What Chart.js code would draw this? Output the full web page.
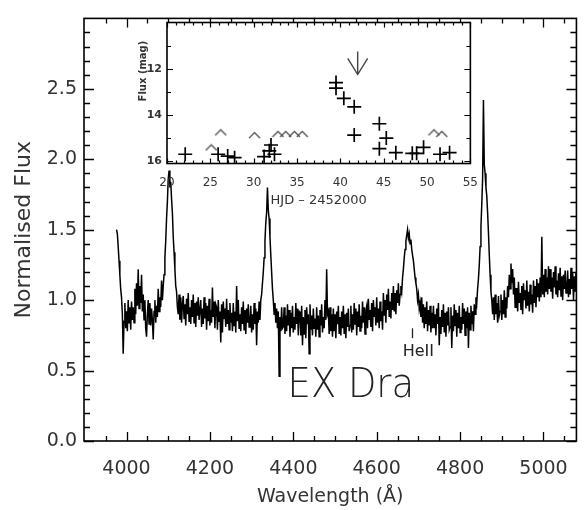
<!DOCTYPE html>
<html><head><meta charset="utf-8">
<script src="https://cdn.jsdelivr.net/npm/chart.js@4/dist/chart.umd.min.js"></script>
<style>
html,body{margin:0;padding:0;background:#fff;}
#wrap{position:relative;width:585px;height:510px;overflow:hidden;}
#main{position:absolute;left:0;top:0;}
#inset{position:absolute;left:110px;top:10px;}
</style></head><body>
<div id="wrap">
<canvas id="main" width="585" height="510"></canvas>
<canvas id="inset" width="380" height="205"></canvas>
</div>
<script>
// ---------- Main spectrum data (wavelength in Å, normalised flux) ----------
const wavelengths = [
3976,3978,3980,3982,3984,3986,3988,3990,3992,3994,3996,3998,4000,4002,4004,4006,4008,4010,4012,4014,
4016,4018,4020,4022,4024,4026,4028,4030,4032,4034,4036,4038,4040,4042,4044,4046,4048,4050,4052,4054,
4056,4058,4060,4062,4064,4066,4068,4070,4072,4074,4076,4078,4080,4082,4084,4086,4088,4090,4092,4094,
4096,4098,4100,4102,4104,4106,4108,4110,4112,4114,4116,4118,4120,4122,4124,4126,4128,4130,4132,4134,
4136,4138,4140,4142,4144,4146,4148,4150,4152,4154,4156,4158,4160,4162,4164,4166,4168,4170,4172,4174,
4176,4178,4180,4182,4184,4186,4188,4190,4192,4194,4196,4198,4200,4202,4204,4206,4208,4210,4212,4214,
4216,4218,4220,4222,4224,4226,4228,4230,4232,4234,4236,4238,4240,4242,4244,4246,4248,4250,4252,4254,
4256,4258,4260,4262,4264,4266,4268,4270,4272,4274,4276,4278,4280,4282,4284,4286,4288,4290,4292,4294,
4296,4298,4300,4302,4304,4306,4308,4310,4312,4314,4316,4318,4320,4322,4324,4326,4328,4330,4332,4334,
4336,4338,4340,4342,4344,4346,4348,4350,4352,4354,4356,4358,4360,4362,4364,4366,4368,4370,4372,4374,
4376,4378,4380,4382,4384,4386,4388,4390,4392,4394,4396,4398,4400,4402,4404,4406,4408,4410,4412,4414,
4416,4418,4420,4422,4424,4426,4428,4430,4432,4434,4436,4438,4440,4442,4444,4446,4448,4450,4452,4454,
4456,4458,4460,4462,4464,4466,4468,4470,4472,4474,4476,4478,4480,4482,4484,4486,4488,4490,4492,4494,
4496,4498,4500,4502,4504,4506,4508,4510,4512,4514,4516,4518,4520,4522,4524,4526,4528,4530,4532,4534,
4536,4538,4540,4542,4544,4546,4548,4550,4552,4554,4556,4558,4560,4562,4564,4566,4568,4570,4572,4574,
4576,4578,4580,4582,4584,4586,4588,4590,4592,4594,4596,4598,4600,4602,4604,4606,4608,4610,4612,4614,
4616,4618,4620,4622,4624,4626,4628,4630,4632,4634,4636,4638,4640,4642,4644,4646,4648,4650,4652,4654,
4656,4658,4660,4662,4664,4666,4668,4670,4672,4674,4676,4678,4680,4682,4684,4686,4688,4690,4692,4694,
4696,4698,4700,4702,4704,4706,4708,4710,4712,4714,4716,4718,4720,4722,4724,4726,4728,4730,4732,4734,
4736,4738,4740,4742,4744,4746,4748,4750,4752,4754,4756,4758,4760,4762,4764,4766,4768,4770,4772,4774,
4776,4778,4780,4782,4784,4786,4788,4790,4792,4794,4796,4798,4800,4802,4804,4806,4808,4810,4812,4814,
4816,4818,4820,4822,4824,4826,4828,4830,4832,4834,4836,4838,4840,4842,4844,4846,4848,4850,4852,4854,
4856,4858,4860,4862,4864,4866,4868,4870,4872,4874,4876,4878,4880,4882,4884,4886,4888,4890,4892,4894,
4896,4898,4900,4902,4904,4906,4908,4910,4912,4914,4916,4918,4920,4922,4924,4926,4928,4930,4932,4934,
4936,4938,4940,4942,4944,4946,4948,4950,4952,4954,4956,4958,4960,4962,4964,4966,4968,4970,4972,4974,
4976,4978,4980,4982,4984,4986,4988,4990,4992,4994,4996,4998,5000,5002,5004,5006,5008,5010,5012,5014,
5016,5018,5020,5022,5024,5026,5028,5030,5032,5034,5036,5038,5040,5042,5044,5046,5048,5050,5052,5054,
5056,5058,5060,5062,5064,5066,5068,5070,5072,5074,5076,5078];

const normalisedFlux = [
1.50,1.47,1.38,1.28,1.18,1.08,1.02,0.90,0.62,0.85,0.98,0.80,0.92,0.78,1.00,0.84,0.95,0.79,0.99,0.86,
0.95,0.84,1.08,0.90,1.12,0.96,1.22,0.94,1.10,0.98,1.18,0.92,1.04,0.86,1.00,0.80,0.74,0.90,1.00,0.83,
0.98,0.82,0.94,0.86,0.72,0.92,1.00,0.84,0.96,0.88,1.08,0.92,1.02,0.95,1.14,1.00,1.10,1.18,1.30,1.42,
1.58,1.70,1.86,1.92,1.80,1.84,1.72,1.62,1.45,1.34,1.22,1.10,1.06,0.95,0.90,1.04,0.86,1.02,0.84,0.97,
1.03,0.87,0.97,0.82,1.01,0.90,1.05,0.85,0.95,0.83,1.00,0.88,1.04,0.84,0.98,0.81,0.99,0.89,1.02,0.86,
0.86,1.00,0.81,0.94,0.83,1.02,0.87,0.98,0.79,0.96,0.85,1.01,0.82,0.93,0.84,1.09,0.88,0.99,0.80,0.97,
0.95,0.79,1.00,0.85,0.92,0.70,0.97,0.77,0.99,0.87,0.94,0.81,1.01,0.83,0.93,0.79,0.98,0.84,0.91,0.78,
0.98,0.82,0.92,0.77,1.10,0.85,1.00,0.80,0.90,0.78,0.95,0.83,0.99,0.79,0.93,0.76,0.94,0.84,0.97,0.81,
0.82,0.96,0.77,0.90,0.79,0.98,0.83,0.94,0.68,0.92,0.84,0.99,0.86,1.00,1.04,1.12,1.20,1.30,1.42,1.55,
1.62,1.80,1.64,1.58,1.45,1.32,1.20,1.08,1.00,0.90,0.98,0.84,0.94,0.80,0.92,0.46,0.88,0.78,0.95,0.80,
0.81,0.95,0.76,0.89,0.78,0.97,0.82,0.93,0.74,0.91,0.80,0.96,0.77,0.88,0.79,0.98,0.83,0.94,0.75,0.92,
0.91,0.75,0.96,0.68,0.88,0.76,0.93,0.73,0.95,0.83,0.90,0.62,0.97,0.79,0.89,0.75,0.94,0.80,0.87,0.74,
0.95,0.79,0.89,0.74,0.93,0.82,0.97,0.77,0.88,0.80,1.00,0.86,1.22,0.90,0.92,0.76,0.95,0.78,0.90,0.74,
0.94,0.78,0.90,0.73,0.92,0.83,0.96,0.76,0.88,0.75,0.92,0.80,0.96,0.76,0.90,0.73,0.91,0.81,0.94,0.78,
0.82,0.96,0.77,0.90,0.79,0.98,0.83,0.94,0.75,0.92,0.81,0.97,0.78,0.89,0.80,0.99,0.84,0.95,0.76,0.93,
0.96,0.80,1.01,0.86,0.93,0.81,0.98,0.78,1.00,0.88,0.95,0.82,1.02,0.84,0.94,0.80,0.99,0.85,0.92,0.79,
1.05,0.89,1.00,0.84,1.04,0.93,1.08,0.88,0.99,0.87,1.05,0.93,1.10,0.92,1.05,0.90,1.07,0.98,1.12,0.96,
1.04,1.10,1.06,1.16,1.22,1.30,1.36,1.42,1.46,1.50,1.44,1.47,1.40,1.43,1.36,1.32,1.28,1.22,1.16,1.12,
1.08,1.00,1.04,0.94,0.98,0.88,1.02,0.84,0.97,0.80,0.95,0.83,0.99,0.78,0.93,0.82,0.96,0.77,0.91,0.80,
0.96,0.80,0.90,0.75,0.94,0.83,0.98,0.68,0.88,0.76,0.93,0.81,0.97,0.77,0.91,0.74,0.92,0.82,0.95,0.79,
0.81,0.95,0.66,0.89,0.78,0.97,0.82,0.93,0.74,0.91,0.80,0.96,0.77,0.88,0.79,0.98,0.83,0.94,0.75,0.92,
0.80,0.95,0.66,0.91,0.79,0.96,0.83,0.92,0.78,0.97,0.90,1.02,0.98,1.08,1.15,1.25,1.38,1.52,1.68,1.86,
2.42,1.96,1.90,1.80,1.74,1.62,1.48,1.32,1.18,1.06,1.00,0.90,1.02,0.86,1.04,0.90,0.98,0.84,1.03,0.89,
0.92,1.04,0.86,1.00,0.90,1.07,0.88,1.02,0.94,1.10,1.02,1.18,1.08,1.26,1.12,1.22,1.04,1.16,0.95,1.08,
1.08,0.92,1.13,0.98,1.05,0.93,1.10,0.90,1.12,1.00,1.07,0.94,1.14,0.96,1.06,0.92,1.11,0.97,1.04,0.91,
1.14,0.98,1.10,0.95,1.15,1.02,1.12,0.99,1.16,1.02,1.45,1.04,1.18,1.02,1.22,1.06,1.16,1.04,1.24,1.08,
1.22,1.06,1.16,1.01,1.20,1.09,1.24,1.04,1.14,1.02,1.19,1.07,1.23,1.03,1.17,1.00,1.18,1.08,1.21,1.05,
1.07,1.21,1.02,1.15,1.04,1.23,1.08,1.19,1.00,1.17,1.06,1.20];

const xTickValues = [4000,4200,4400,4600,4800,5000];
const xMinorValues = [3950,4050,4100,4150,4250,4300,4350,4450,4500,4550,4650,4700,4750,4850,4900,4950,5050];
const yTickValues = [0.0,0.5,1.0,1.5,2.0,2.5];
const yMinorValues = [0.1,0.2,0.3,0.4,0.6,0.7,0.8,0.9,1.1,1.2,1.3,1.4,1.6,1.7,1.8,1.9,2.1,2.2,2.3,2.4,2.6,2.7,2.8,2.9];

// annotations (data coordinates)
const objectLabel = {text:'EX Dra', x:4538, y:0.39};
const lineLabel = {text:'HeII', x:4700, y:0.63, markX:4684, markFrom:0.73, markTo:0.80};

// ---------- Inset light-curve data ----------
const detectionDays = [22.1,25.9,27.0,27.8,31.2,31.8,32.0,32.4,39.5,39.5,40.4,41.6,41.6,44.5,44.5,45.3,46.4,48.3,48.8,49.6,51.5,52.6];
const detectionMags = [15.7,15.7,15.78,15.85,15.8,15.55,15.3,15.7,12.6,12.84,13.28,13.65,14.87,14.38,15.46,15.0,15.63,15.66,15.66,15.4,15.7,15.63];
const limitDays = [25.1,26.2,30.1,32.8,33.7,34.7,35.6,50.8,51.7];
const limitMags = [15.4,14.75,14.87,14.82,14.82,14.82,14.82,14.75,14.82];
const insetXTicks = [20,25,30,35,40,45,50,55];
const insetXMinor = [21,22,23,24,26,27,28,29,31,32,33,34,36,37,38,39,41,42,43,44,46,47,48,49,51,52,53,54];
const insetYTicks = [12,14,16];
const insetYMinor = [11,13,15];
const spectrumEpoch = {day:42.0, from:11.25, to:12.25, headDays:1.15, headMags:0.7};
const insetYTitle = {text:'Flux (mag)', day:17.3, mag:12.1};

// ---------- plugins ----------
const frameTicks = {
  id:'frameTicks',
  afterDatasetsDraw(chart, args, o){
    const {ctx, chartArea:a, scales:{x, y}} = chart;
    ctx.save();
    ctx.strokeStyle = '#000';
    ctx.lineWidth = o.tickWidth;
    ctx.beginPath();
    const tx = (vals, len) => vals.forEach(v => {
      const p = Math.round(x.getPixelForValue(v)) + 0.5;
      ctx.moveTo(p, a.bottom); ctx.lineTo(p, a.bottom - len);
      ctx.moveTo(p, a.top); ctx.lineTo(p, a.top + len);
    });
    const ty = (vals, len) => vals.forEach(v => {
      const p = Math.round(y.getPixelForValue(v)) + 0.5;
      ctx.moveTo(a.left, p); ctx.lineTo(a.left + len, p);
      ctx.moveTo(a.right, p); ctx.lineTo(a.right - len, p);
    });
    tx(o.xMajor, o.xMajorLen); tx(o.xMinor, o.xMinorLen);
    ty(o.yMajor, o.yMajorLen); ty(o.yMinor, o.yMinorLen);
    ctx.stroke();
    ctx.lineWidth = o.frameWidth;
    ctx.strokeRect(a.left, a.top, a.right - a.left, a.bottom - a.top);
    ctx.restore();
  }
};

const whiteArea = {
  id:'whiteArea',
  beforeDatasetsDraw(chart){
    const {ctx, chartArea:a} = chart;
    ctx.save(); ctx.fillStyle = '#fff';
    ctx.fillRect(a.left, a.top, a.right - a.left, a.bottom - a.top);
    ctx.restore();
  }
};

const mainLabels = {
  id:'mainLabels',
  afterDatasetsDraw(chart){
    const {ctx, scales:{x, y}} = chart;
    ctx.save();
    ctx.fillStyle = '#222';
    ctx.textAlign = 'center'; ctx.textBaseline = 'middle';
    ctx.font = '200 41px "DejaVu Sans"';
    const ex = x.getPixelForValue(objectLabel.x), ey = y.getPixelForValue(objectLabel.y);
    ctx.translate(ex, ey); ctx.scale(0.9, 1);
    ctx.fillText(objectLabel.text, 0, 0);
    ctx.setTransform(1,0,0,1,0,0);
    ctx.font = '16px "DejaVu Sans"';
    ctx.fillText(lineLabel.text, x.getPixelForValue(lineLabel.x), y.getPixelForValue(lineLabel.y));
    ctx.strokeStyle = '#222'; ctx.lineWidth = 1.3;
    const mx = Math.round(x.getPixelForValue(lineLabel.markX)) + 0.5;
    ctx.beginPath();
    ctx.moveTo(mx, y.getPixelForValue(lineLabel.markFrom));
    ctx.lineTo(mx, y.getPixelForValue(lineLabel.markTo));
    ctx.stroke();
    ctx.restore();
  }
};

const insetLabels = {
  id:'insetLabels',
  afterDatasetsDraw(chart){
    const {ctx, scales:{x, y}} = chart;
    const e = spectrumEpoch;
    const px = x.getPixelForValue(e.day);
    const tip = y.getPixelForValue(e.to);
    ctx.save();
    ctx.strokeStyle = '#444'; ctx.lineWidth = 1.4;
    ctx.beginPath();
    ctx.moveTo(px, y.getPixelForValue(e.from)); ctx.lineTo(px, tip);
    ctx.moveTo(x.getPixelForValue(e.day - e.headDays), y.getPixelForValue(e.to - e.headMags));
    ctx.lineTo(px, tip);
    ctx.lineTo(x.getPixelForValue(e.day + e.headDays), y.getPixelForValue(e.to - e.headMags));
    ctx.stroke();
    ctx.fillStyle = '#333';
    ctx.font = 'bold 10px "DejaVu Sans"';
    ctx.textAlign = 'center'; ctx.textBaseline = 'middle';
    ctx.translate(x.getPixelForValue(insetYTitle.day), y.getPixelForValue(insetYTitle.mag));
    ctx.rotate(-Math.PI / 2);
    ctx.fillText(insetYTitle.text, 0, 0);
    ctx.restore();
  }
};

// caret symbol (upper limits)
const caret = document.createElement('canvas');
caret.width = 13; caret.height = 8;
(function(){
  const c = caret.getContext('2d');
  c.strokeStyle = '#555'; c.lineWidth = 1.4;
  c.beginPath(); c.moveTo(1,7); c.lineTo(6.5,1.5); c.lineTo(12,7); c.stroke();
})();

const tickFont = {family:'"DejaVu Sans", sans-serif', size:19};

// ---------- main chart ----------
new Chart(document.getElementById('main'), {
  type:'scatter',
  data:{datasets:[{
    data: wavelengths.map((w, i) => ({x:w, y:normalisedFlux[i]})),
    showLine:true, borderColor:'#000', borderWidth:1.5, pointRadius:0, tension:0
  }]},
  options:{
    responsive:false, animation:false, devicePixelRatio:1,
    layout:{padding:{top:6, right:5, left:0, bottom:0}},
    plugins:{
      legend:{display:false}, tooltip:{enabled:false},
      frameTicks:{xMajor:xTickValues, xMinor:xMinorValues, yMajor:yTickValues, yMinor:yMinorValues,
        xMajorLen:9, xMinorLen:5, yMajorLen:10, yMinorLen:6, tickWidth:1.3, frameWidth:1.6}
    },
    scales:{
      x:{
        type:'linear', min:3898, max:5079,
        afterBuildTicks: s => { s.ticks = xTickValues.map(v => ({value:v})); },
        afterFit: s => { s.height = 69; },
        grid:{display:false, drawTicks:false}, border:{display:false},
        ticks:{font:tickFont, color:'#333', padding:17, autoSkip:false, maxRotation:0, callback: v => String(v)},
        title:{display:true, text:'Wavelength (Å)', font:tickFont, color:'#333', padding:{top:0, bottom:2}}
      },
      y:{
        type:'linear', min:0, max:3.0,
        afterBuildTicks: s => { s.ticks = yTickValues.map(v => ({value:v})); },
        afterFit: s => { s.width = 84; },
        grid:{display:false, drawTicks:false}, border:{display:false},
        ticks:{font:tickFont, color:'#333', padding:7, callback: v => Number(v).toFixed(1)},
        title:{display:true, text:'Normalised Flux', font:{family:'"DejaVu Sans", sans-serif', size:22}, color:'#333', padding:{top:11.5, bottom:0}}
      }
    }
  },
  plugins:[frameTicks, mainLabels]
});

// ---------- inset chart ----------
const insetFont = {family:'"DejaVu Sans", sans-serif', size:12};
new Chart(document.getElementById('inset'), {
  type:'scatter',
  data:{datasets:[
    {data: detectionDays.map((d, i) => ({x:d, y:detectionMags[i]})), pointStyle:'cross', pointRadius:7, borderColor:'#000', borderWidth:1.7, showLine:false},
    {data: limitDays.map((d, i) => ({x:d, y:limitMags[i]})), pointStyle:caret, pointRadius:6, showLine:false}
  ]},
  options:{
    responsive:false, animation:false, devicePixelRatio:1,
    layout:{padding:{top:12.5, right:17, left:0, bottom:0}},
    plugins:{
      legend:{display:false}, tooltip:{enabled:false},
      frameTicks:{xMajor:insetXTicks, xMinor:insetXMinor, yMajor:insetYTicks, yMinor:insetYMinor,
        xMajorLen:5, xMinorLen:3, yMajorLen:6, yMinorLen:4, tickWidth:1.2, frameWidth:1.6}
    },
    scales:{
      x:{
        type:'linear', min:20, max:55,
        afterBuildTicks: s => { s.ticks = insetXTicks.map(v => ({value:v})); },
        afterFit: s => { s.height = 51.5; },
        grid:{display:false, drawTicks:false}, border:{display:false},
        ticks:{font:insetFont, color:'#333', padding:12, autoSkip:false, maxRotation:0},
        title:{display:true, text:'HJD – 2452000', font:{family:'"DejaVu Sans", sans-serif', size:13}, color:'#333', padding:{top:0, bottom:7}}
      },
      y:{
        type:'linear', reverse:true, min:10, max:16.1,
        afterBuildTicks: s => { s.ticks = insetYTicks.map(v => ({value:v})); },
        afterFit: s => { s.width = 57; },
        grid:{display:false, drawTicks:false}, border:{display:false},
        ticks:{font:{family:'"DejaVu Sans", sans-serif', size:11, weight:'bold'}, color:'#333', padding:5}
      }
    }
  },
  plugins:[whiteArea, frameTicks, insetLabels]
});
</script>
</body></html>
